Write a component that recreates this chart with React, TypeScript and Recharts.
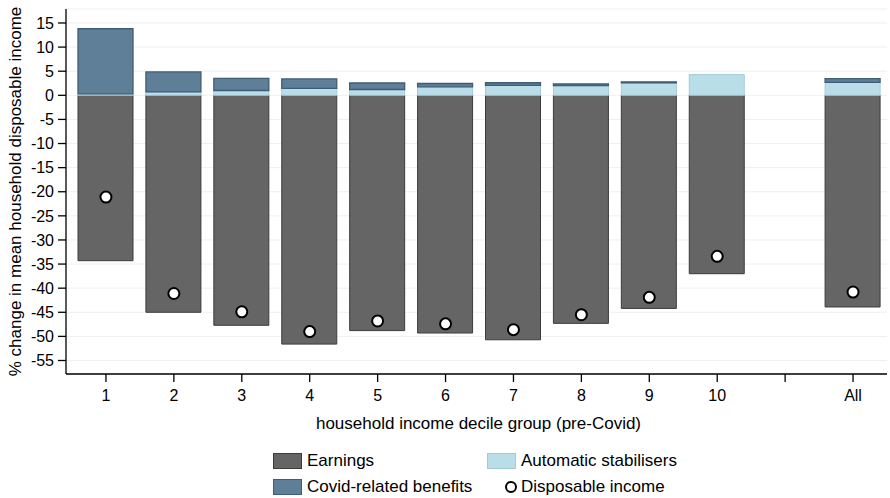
import React from "react";
import {
  ComposedChart,
  Bar,
  Line,
  XAxis,
  YAxis,
  CartesianGrid,
  Label,
} from "recharts";

// Household income decile groups (pre-Covid), a spacer slot, then all households
const deciles = ["1", "2", "3", "4", "5", "6", "7", "8", "9", "10", "", "All"];

// % change in mean household disposable income, by component
const earnings = [-34.3, -45.0, -47.7, -51.6, -48.8, -49.3, -50.7, -47.3, -44.2, -37.0, null, -43.9];
const stabilisers = [0.3, 0.7, 1.0, 1.45, 1.2, 1.75, 2.05, 2.0, 2.6, 4.3, null, 2.7];
const covidBenefits = [13.5, 4.15, 2.5, 1.95, 1.35, 0.7, 0.55, 0.35, 0.2, null, null, 0.75];
const disposable = [-21.1, -41.1, -44.9, -49.0, -46.8, -47.4, -48.6, -45.5, -41.9, -33.4, null, -40.8];

const yTicks = [15, 10, 5, 0, -5, -10, -15, -20, -25, -30, -35, -40, -45, -50, -55];

const FONT = '"Liberation Sans", Arial, Helvetica, sans-serif';

const COLORS = {
  earnings: "#656565",
  earningsEdge: "#3c3c3c",
  covid: "#5f7f98",
  covidEdge: "#3f5d76",
  stab: "#badee8",
  stabEdge: "#a3ccd9",
};

const data = deciles.map((d, i) => ({
  decile: d,
  earnings: earnings[i],
  stabilisers: stabilisers[i],
  covid: covidBenefits[i],
  disposable: disposable[i],
}));

const legendText: React.CSSProperties = {
  position: "absolute",
  fontSize: 17,
  lineHeight: "20px",
  color: "#000",
  whiteSpace: "nowrap",
};

function Swatch({ left, top, fill, edge }: { left: number; top: number; fill: string; edge: string }) {
  return (
    <div
      style={{
        position: "absolute",
        left,
        top,
        width: 29,
        height: 16,
        background: fill,
        boxSizing: "border-box",
        border: `1px solid ${edge}`,
      }}
    />
  );
}

function ChartLegend() {
  return (
    <>
      <Swatch left={273} top={453} fill={COLORS.earnings} edge={COLORS.earningsEdge} />
      <div style={{ ...legendText, left: 307, top: 451 }}>Earnings</div>
      <Swatch left={487} top={453} fill={COLORS.stab} edge={COLORS.stabEdge} />
      <div style={{ ...legendText, left: 521, top: 451 }}>Automatic stabilisers</div>
      <Swatch left={273} top={479} fill={COLORS.covid} edge={COLORS.covidEdge} />
      <div style={{ ...legendText, left: 307, top: 477 }}>Covid-related benefits</div>
      <svg style={{ position: "absolute", left: 503, top: 479 }} width={16} height={16}>
        <circle cx={8} cy={8} r={5} fill="#fff" stroke="#000" strokeWidth={2} />
      </svg>
      <div style={{ ...legendText, left: 521, top: 477 }}>Disposable income</div>
    </>
  );
}

export default function App() {
  return (
    <div
      style={{
        position: "absolute",
        left: 0,
        top: 0,
        width: 890,
        height: 498,
        background: "#fff",
        fontFamily: FONT,
      }}
    >
      <ComposedChart
        width={890}
        height={498}
        data={data}
        stackOffset="sign"
        margin={{ top: 9, right: 3, left: 0, bottom: 64 }}
        barCategoryGap={0}
      >
        <CartesianGrid vertical={false} stroke="#efefef" strokeWidth={1} />
        <XAxis
          dataKey="decile"
          type="category"
          padding={{ left: 6, right: 0 }}
          axisLine={{ stroke: "#000", strokeWidth: 1.3 }}
          tickLine={{ stroke: "#000", strokeWidth: 1.3 }}
          tickSize={8}
          tickMargin={8}
          height={60}
          interval={0}
          tick={{ fill: "#000", fontSize: 16, fontFamily: FONT }}
        >
          <Label
            content={(props: any) => {
              const vb = props.viewBox || { x: 66, width: 821 };
              return (
                <text
                  x={vb.x + vb.width / 2 + 2}
                  y={429}
                  textAnchor="middle"
                  fill="#000"
                  fontSize={17}
                  fontFamily={FONT}
                >
                  household income decile group (pre-Covid)
                </text>
              );
            }}
          />
        </XAxis>
        <YAxis
          type="number"
          domain={[-57.8, 17.9]}
          ticks={yTicks}
          interval={0}
          width={66}
          axisLine={{ stroke: "#000", strokeWidth: 1.3 }}
          tickLine={{ stroke: "#000", strokeWidth: 1.3 }}
          tickSize={8}
          tickMargin={4}
          tick={{ fill: "#000", fontSize: 16, fontFamily: FONT }}
        >
          <Label
            content={(props: any) => {
              const vb = props.viewBox || { y: 9, height: 365 };
              const cy = vb.y + vb.height / 2;
              return (
                <text
                  transform={`translate(15, ${cy}) rotate(-90)`}
                  textAnchor="middle"
                  dominantBaseline="central"
                  fill="#000"
                  fontSize={17}
                  fontFamily={FONT}
                >
                  % change in mean household disposable income
                </text>
              );
            }}
          />
        </YAxis>
        <Bar
          dataKey="earnings"
          stackId="inc"
          barSize={55}
          fill={COLORS.earnings}
          stroke={COLORS.earningsEdge}
          strokeWidth={1}
          isAnimationActive={false}
        />
        <Bar
          dataKey="stabilisers"
          stackId="inc"
          barSize={55}
          fill={COLORS.stab}
          stroke={COLORS.stabEdge}
          strokeWidth={1}
          isAnimationActive={false}
        />
        <Bar
          dataKey="covid"
          stackId="inc"
          barSize={55}
          fill={COLORS.covid}
          stroke={COLORS.covidEdge}
          strokeWidth={1.3}
          isAnimationActive={false}
        />
        <Line
          dataKey="disposable"
          stroke="none"
          dot={{ r: 5.5, fill: "#fff", stroke: "#000", strokeWidth: 2 }}
          activeDot={false}
          legendType="none"
          isAnimationActive={false}
        />
      </ComposedChart>
      <ChartLegend />
    </div>
  );
}
